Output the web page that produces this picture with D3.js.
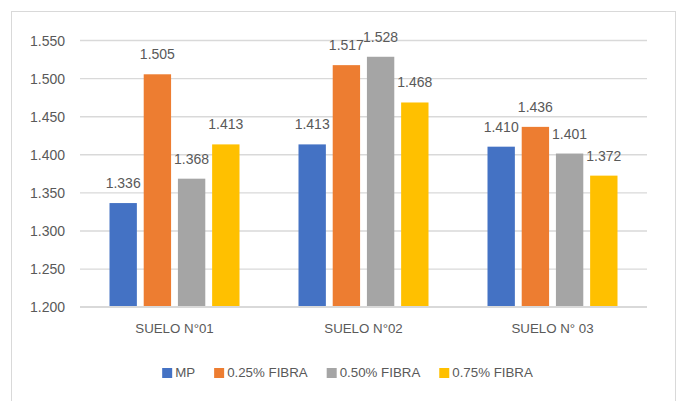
<!DOCTYPE html>
<html>
<head>
<meta charset="utf-8">
<script src="https://cdn.jsdelivr.net/npm/d3@7"></script>
<style>
  html, body { margin: 0; padding: 0; background: #fff; }
  svg { display: block; }
  text { font-family: "Liberation Sans", Arial, sans-serif; fill: #595959; }
</style>
</head>
<body>
<svg id="chart" width="678" height="401"></svg>
<script>
const categories = ["SUELO N°01", "SUELO N°02", "SUELO N° 03"];
const seriesNames = ["MP", "0.25% FIBRA", "0.50% FIBRA", "0.75% FIBRA"];
const mpValues = [1.336, 1.413, 1.410];
const fibra025Values = [1.505, 1.517, 1.436];
const fibra050Values = [1.368, 1.528, 1.401];
const fibra075Values = [1.413, 1.468, 1.372];
const yTicks = [1.200, 1.250, 1.300, 1.350, 1.400, 1.450, 1.500, 1.550];
const colors = ["#4472C4", "#ED7D31", "#A5A5A5", "#FFC000"];

const seriesValues = [mpValues, fibra025Values, fibra050Values, fibra075Values];

const svg = d3.select("#chart");
const fmt = d3.format(".3f");

// chart border
svg.append("rect")
  .attr("x", 11.5).attr("y", 11.5)
  .attr("width", 664).attr("height", 395)
  .attr("fill", "#fff").attr("stroke", "#d9d9d9").attr("stroke-width", 1);

const plotL = 80, plotR = 647, plotT = 40, plotB = 306.7;

const x0 = d3.scaleBand().domain(categories).range([plotL, plotR]).paddingInner(0).paddingOuter(0);
const x1 = d3.scaleBand().domain(seriesNames)
  .range([29.5, x0.bandwidth() - 29.5]).paddingInner(0.2).paddingOuter(0);
const y = d3.scaleLinear().domain([1.2, 1.55]).range([plotB, plotT]);

// gridlines
const yAxis = d3.axisLeft(y).tickValues(yTicks).tickFormat(fmt)
  .tickSize(-(plotR - plotL)).tickPadding(15);
const gAxis = svg.append("g").attr("transform", `translate(${plotL},0)`).call(yAxis);
gAxis.select(".domain").remove();
gAxis.selectAll(".tick line").attr("stroke", "#d9d9d9").attr("stroke-width", 1.4);
gAxis.selectAll(".tick text")
  .style("font-size", "14px").attr("fill", "#595959").attr("dy", "0.36em");

// bars
const groups = svg.append("g").selectAll("g")
  .data(categories).join("g")
  .attr("transform", d => `translate(${x0(d)},0)`);

groups.selectAll("rect")
  .data((c, ci) => seriesNames.map((s, si) => ({ s, si, v: seriesValues[si][ci] })))
  .join("rect")
  .attr("x", d => x1(d.s))
  .attr("width", x1.bandwidth())
  .attr("y", d => y(d.v))
  .attr("height", d => y(1.2) - y(d.v))
  .attr("fill", d => colors[d.si]);

groups.selectAll("text.lbl")
  .data((c, ci) => seriesNames.map((s, si) => ({ s, si, v: seriesValues[si][ci] })))
  .join("text")
  .attr("class", "lbl")
  .attr("x", d => x1(d.s) + x1.bandwidth() / 2)
  .attr("y", d => y(d.v) - 15)
  .attr("text-anchor", "middle")
  .style("font-size", "14px")
  .text(d => fmt(d.v));

// baseline
svg.append("line")
  .attr("x1", plotL).attr("x2", plotR)
  .attr("y1", y(1.2)).attr("y2", y(1.2))
  .attr("stroke", "#d9d9d9").attr("stroke-width", 1.4);

// category labels
const xAxis = d3.axisBottom(x0).tickSize(0).tickPadding(0);
const gx = svg.append("g").attr("transform", `translate(0,${y(1.2)})`).call(xAxis);
gx.select(".domain").remove();
gx.selectAll(".tick text")
  .attr("y", 26).attr("dy", 0)
  .style("font-size", "13.3px").attr("fill", "#595959");

// legend
const legend = svg.append("g");
let lx = 0;
seriesNames.forEach((name, i) => {
  const g = legend.append("g");
  g.append("rect").attr("x", 0).attr("y", -9).attr("width", 10).attr("height", 10).attr("fill", colors[i]);
  const t = g.append("text").attr("x", 13).attr("y", 0).style("font-size", "13.3px").text(name);
  const w = 13 + t.node().getComputedTextLength();
  g.attr("transform", `translate(${lx},0)`);
  lx += w + 19;
});
const totalW = lx - 19;
legend.attr("transform", `translate(${347.5 - totalW / 2},377)`);
</script>
</body>
</html>
